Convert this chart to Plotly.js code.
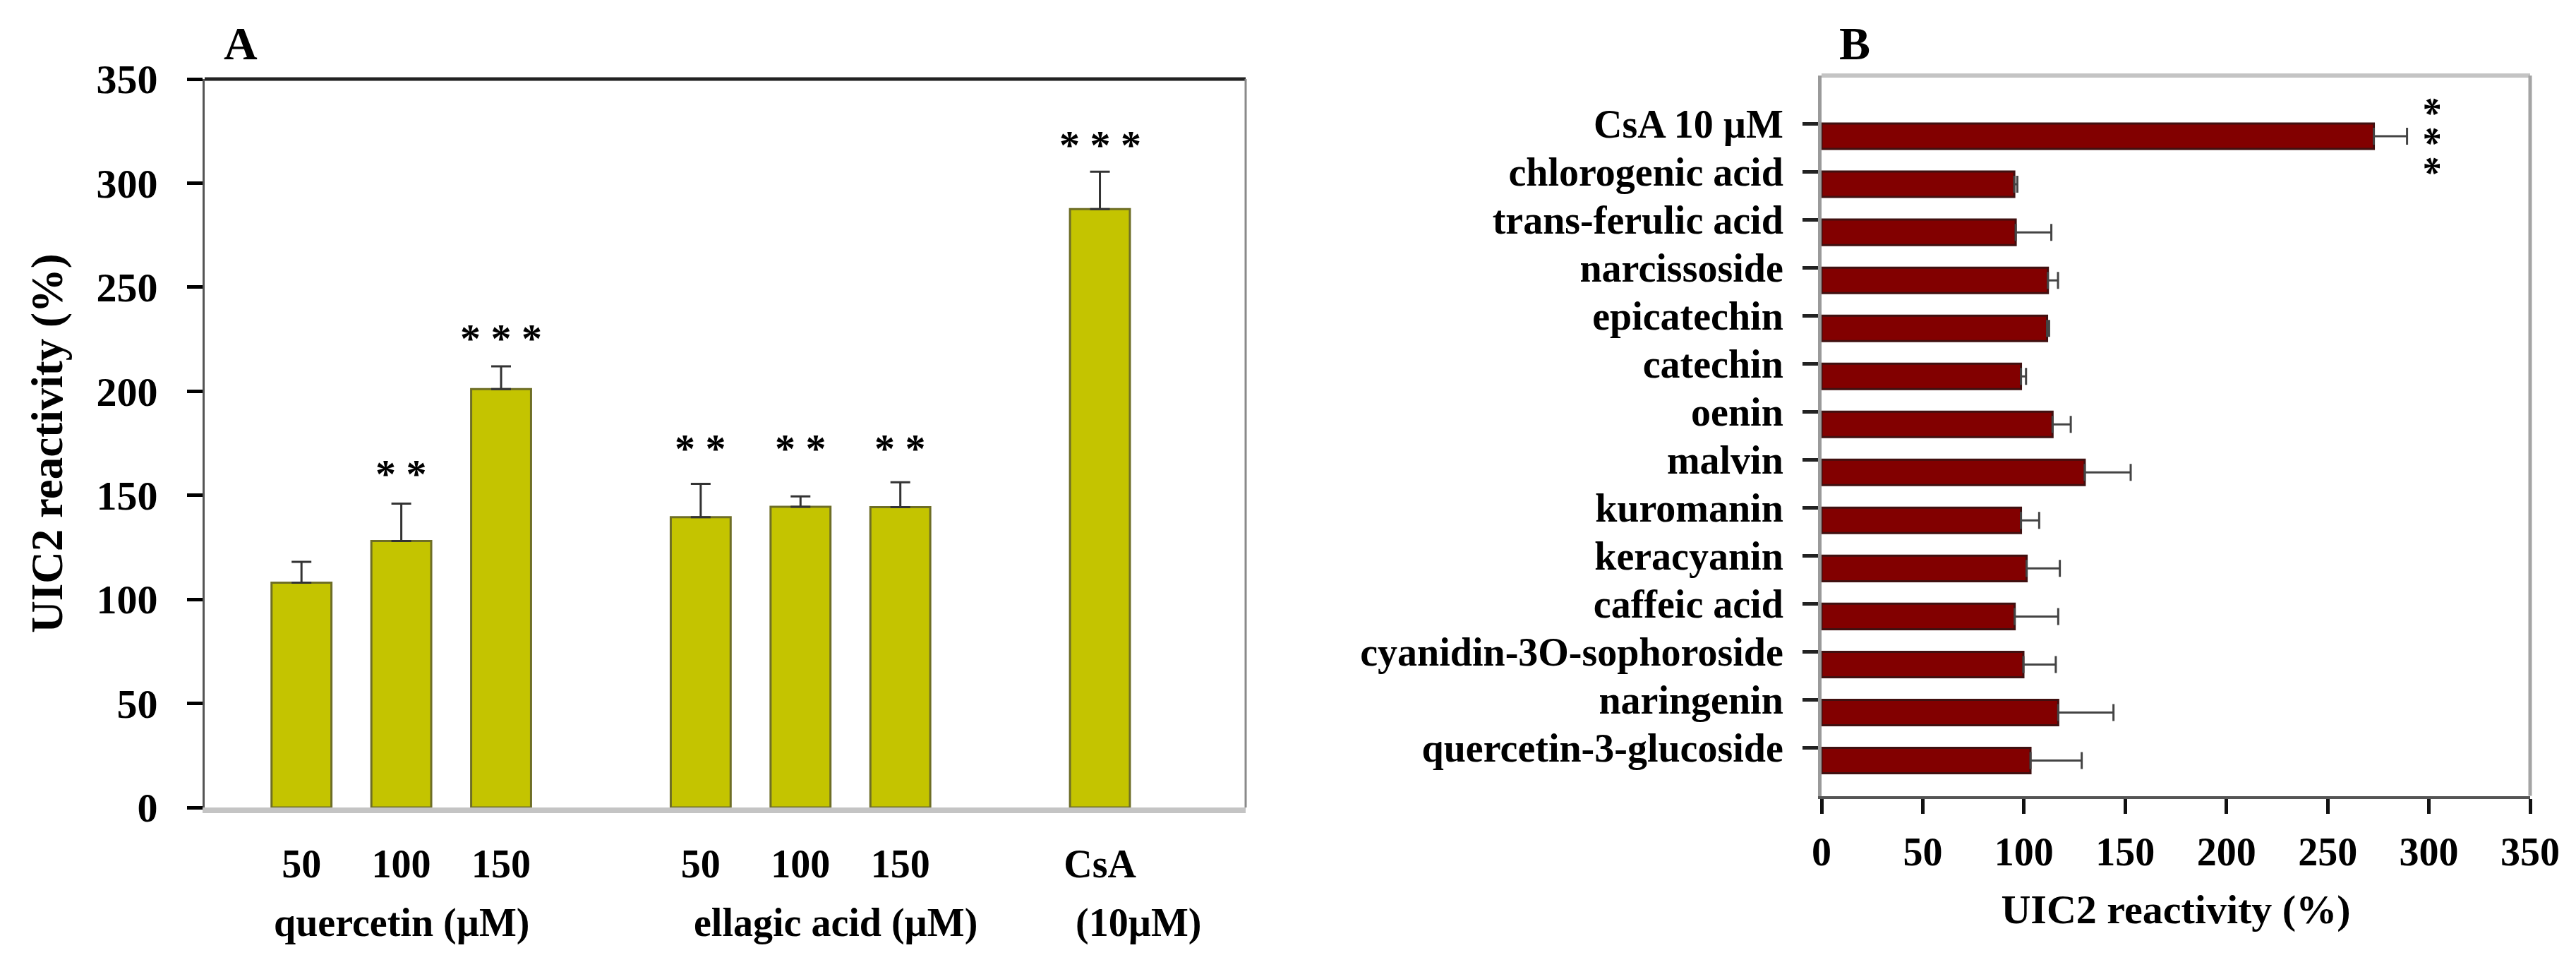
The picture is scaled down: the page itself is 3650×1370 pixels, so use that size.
<!DOCTYPE html>
<html>
<head>
<meta charset="utf-8">
<script src="https://cdn.plot.ly/plotly-3.0.1.min.js"></script>
<style>html,body{margin:0;padding:0;background:#fff;}#chart{width:3650px;height:1370px;}</style>
</head>
<body>
<div id="chart"></div>
<script>
// ---------- Panel A data ----------
const aGroups = ['quercetin (µM)', 'quercetin (µM)', 'quercetin (µM)', 'ellagic acid (µM)', 'ellagic acid (µM)', 'ellagic acid (µM)', '(10µM)'];
const aDoseLabels = ['50', '100', '150', '50', '100', '150', 'CsA'];
const aValues = [108, 128, 201, 139.5, 144.5, 144.3, 287.5];
const aErrors = [10, 18, 11, 16, 5, 12, 18];
const aStars = ['', '* *', '* * *', '* *', '* *', '* *', '* * *'];
const aStarLevels = [null, 163, 228, 175, 175, 175, 321];

// ---------- Panel B data ----------
const bCompounds = ['CsA 10 µM', 'chlorogenic acid', 'trans-ferulic acid', 'narcissoside', 'epicatechin', 'catechin', 'oenin', 'malvin', 'kuromanin', 'keracyanin', 'caffeic acid', 'cyanidin-3O-sophoroside', 'naringenin', 'quercetin-3-glucoside'];
const bValues = [272.8, 95.2, 95.9, 111.8, 111.4, 98.5, 114.1, 130, 98.5, 101.3, 95.4, 99.7, 116.9, 103.2];
const bErrors = [16.4, 1.5, 17.6, 5, 1, 2.5, 9, 22.7, 9, 16.4, 21.5, 16, 27.3, 25.3];
const bStars = ['* * *', '', '', '', '', '', '', '', '', '', '', '', '', ''];

// ---------- derived positions (group gaps of one slot) ----------
const aPos = [];
let slot = 0;
aGroups.forEach((g, i) => {
  if (i > 0 && g !== aGroups[i - 1]) slot += 1;
  aPos.push(slot);
  slot += 1;
});
const groupNames = [...new Set(aGroups)];

const FONT = 'Liberation Serif, Times New Roman, serif';
const txt = (size, color) => ({family: FONT, size: size, color: color || '#000', weight: 'bold'});

const traceA = {
  type: 'bar', x: aPos, y: aValues, width: 0.6,
  xaxis: 'x', yaxis: 'y',
  marker: {color: '#C4C400', line: {color: '#6E6E26', width: 3}},
  error_y: {type: 'data', symmetric: false, array: aErrors, arrayminus: aErrors.map(() => 0),
            color: '#333', thickness: 3, width: 14},
  hoverinfo: 'skip'
};

const barWidthB = 0.53;
const traceB = {
  type: 'bar', orientation: 'h', y: bCompounds, x: bValues, width: barWidthB, offset: 0,
  xaxis: 'x2', yaxis: 'y2',
  marker: {color: '#820000', line: {color: '#401010', width: 3}},
  error_x: {type: 'data', symmetric: false, array: bErrors, arrayminus: bErrors.map(() => 0),
            color: '#444', thickness: 3, width: 12},
  hoverinfo: 'skip'
};

const annotations = [];
// panel letters
annotations.push({xref: 'paper', yref: 'paper', x: 341 / 3650, y: 1 - 62 / 1370, text: 'A', showarrow: false,
  xanchor: 'center', yanchor: 'middle', font: txt(66)});
annotations.push({xref: 'paper', yref: 'paper', x: 2628 / 3650, y: 1 - 62 / 1370, text: 'B', showarrow: false,
  xanchor: 'center', yanchor: 'middle', font: txt(66)});

// significance stars panel A
aStars.forEach((s, i) => {
  if (!s) return;
  annotations.push({xref: 'x', yref: 'y', x: aPos[i], y: aStarLevels[i], text: s, showarrow: false,
    xanchor: 'center', yanchor: 'middle', yshift: -8, font: txt(58)});
});

// group labels panel A
const groupShift = [0, 50, 54];
groupNames.forEach((g, k) => {
  const ps = aPos.filter((p, i) => aGroups[i] === g);
  const mid = ps.reduce((a, b) => a + b, 0) / ps.length;
  annotations.push({xref: 'x', yref: 'paper', x: mid, y: 1 - 1307 / 1370, text: g, showarrow: false,
    xanchor: 'center', yanchor: 'middle', xshift: groupShift[k], font: txt(56)});
});

// significance stars panel B (rotated text, stacked vertically)
bStars.forEach((s, i) => {
  if (!s) return;
  annotations.push({xref: 'x2', yref: 'y2', x: bValues[i] + bErrors[i] + 13, y: i + barWidthB / 2,
    text: s, showarrow: false, xanchor: 'center', yanchor: 'middle', textangle: 90,
    xshift: -10, font: txt(56)});
});

const shapes = [
  // panel A frame
  {type: 'line', xref: 'x domain', yref: 'y domain', x0: 0, x1: 1, y0: 1, y1: 1, line: {color: '#222', width: 5}},
  {type: 'line', xref: 'x domain', yref: 'y domain', x0: 1, x1: 1, y0: 0, y1: 1, line: {color: '#8a8a8a', width: 3}},
  // panel B frame
  {type: 'line', xref: 'x2 domain', yref: 'y2 domain', x0: 0, x1: 1, y0: 1, y1: 1, line: {color: '#c4c4c4', width: 6}},
  {type: 'line', xref: 'x2 domain', yref: 'y2 domain', x0: 1, x1: 1, y0: 0, y1: 1, line: {color: '#a4a4a4', width: 5}}
];

const layout = {
  width: 3650, height: 1370,
  margin: {l: 0, r: 0, t: 0, b: 0},
  paper_bgcolor: '#fff', plot_bgcolor: '#fff',
  showlegend: false,
  xaxis: {
    domain: [290 / 3650, 1765 / 3650], anchor: 'y',
    range: [-0.97, 9.46], tickvals: aPos, ticktext: aDoseLabels,
    ticks: '', ticklabelstandoff: 24,
    showline: true, linecolor: '#c4c4c4', linewidth: 8,
    showgrid: false, zeroline: false, tickfont: txt(56)
  },
  yaxis: {
    domain: [1 - 1144 / 1370, 1 - 112 / 1370], anchor: 'x',
    range: [0, 350], dtick: 50, tick0: 0,
    ticks: 'outside', ticklen: 22, tickwidth: 5, tickcolor: '#000',
    ticklabelstandoff: 30,
    showline: true, linecolor: '#555', linewidth: 3,
    showgrid: false, zeroline: false, tickfont: txt(58),
    title: {text: 'UIC2 reactivity (%)', font: txt(63), standoff: 28}
  },
  xaxis2: {
    domain: [2581 / 3650, 3585 / 3650], anchor: 'y2',
    range: [0, 350], dtick: 50, tick0: 0,
    ticks: 'outside', ticklen: 21, tickwidth: 5, tickcolor: '#111',
    ticklabelstandoff: 6,
    showline: true, linecolor: '#555', linewidth: 4,
    showgrid: false, zeroline: false, tickfont: txt(56),
    title: {text: 'UIC2 reactivity (%)', font: txt(58), standoff: 32}
  },
  yaxis2: {
    domain: [1 - 1127.5 / 1370, 1 - 107 / 1370], anchor: 'x2',
    type: 'category', categoryorder: 'array', categoryarray: bCompounds,
    range: [14, -1],
    ticks: 'outside', ticklen: 22, tickwidth: 5, tickcolor: '#222',
    ticklabelstandoff: 16,
    showline: true, linecolor: '#9a9a9a', linewidth: 5,
    showgrid: false, zeroline: false, tickfont: txt(56)
  },
  annotations: annotations,
  shapes: shapes
};

Plotly.newPlot('chart', [traceA, traceB], layout, {staticPlot: true, displayModeBar: false});
</script>
</body>
</html>
